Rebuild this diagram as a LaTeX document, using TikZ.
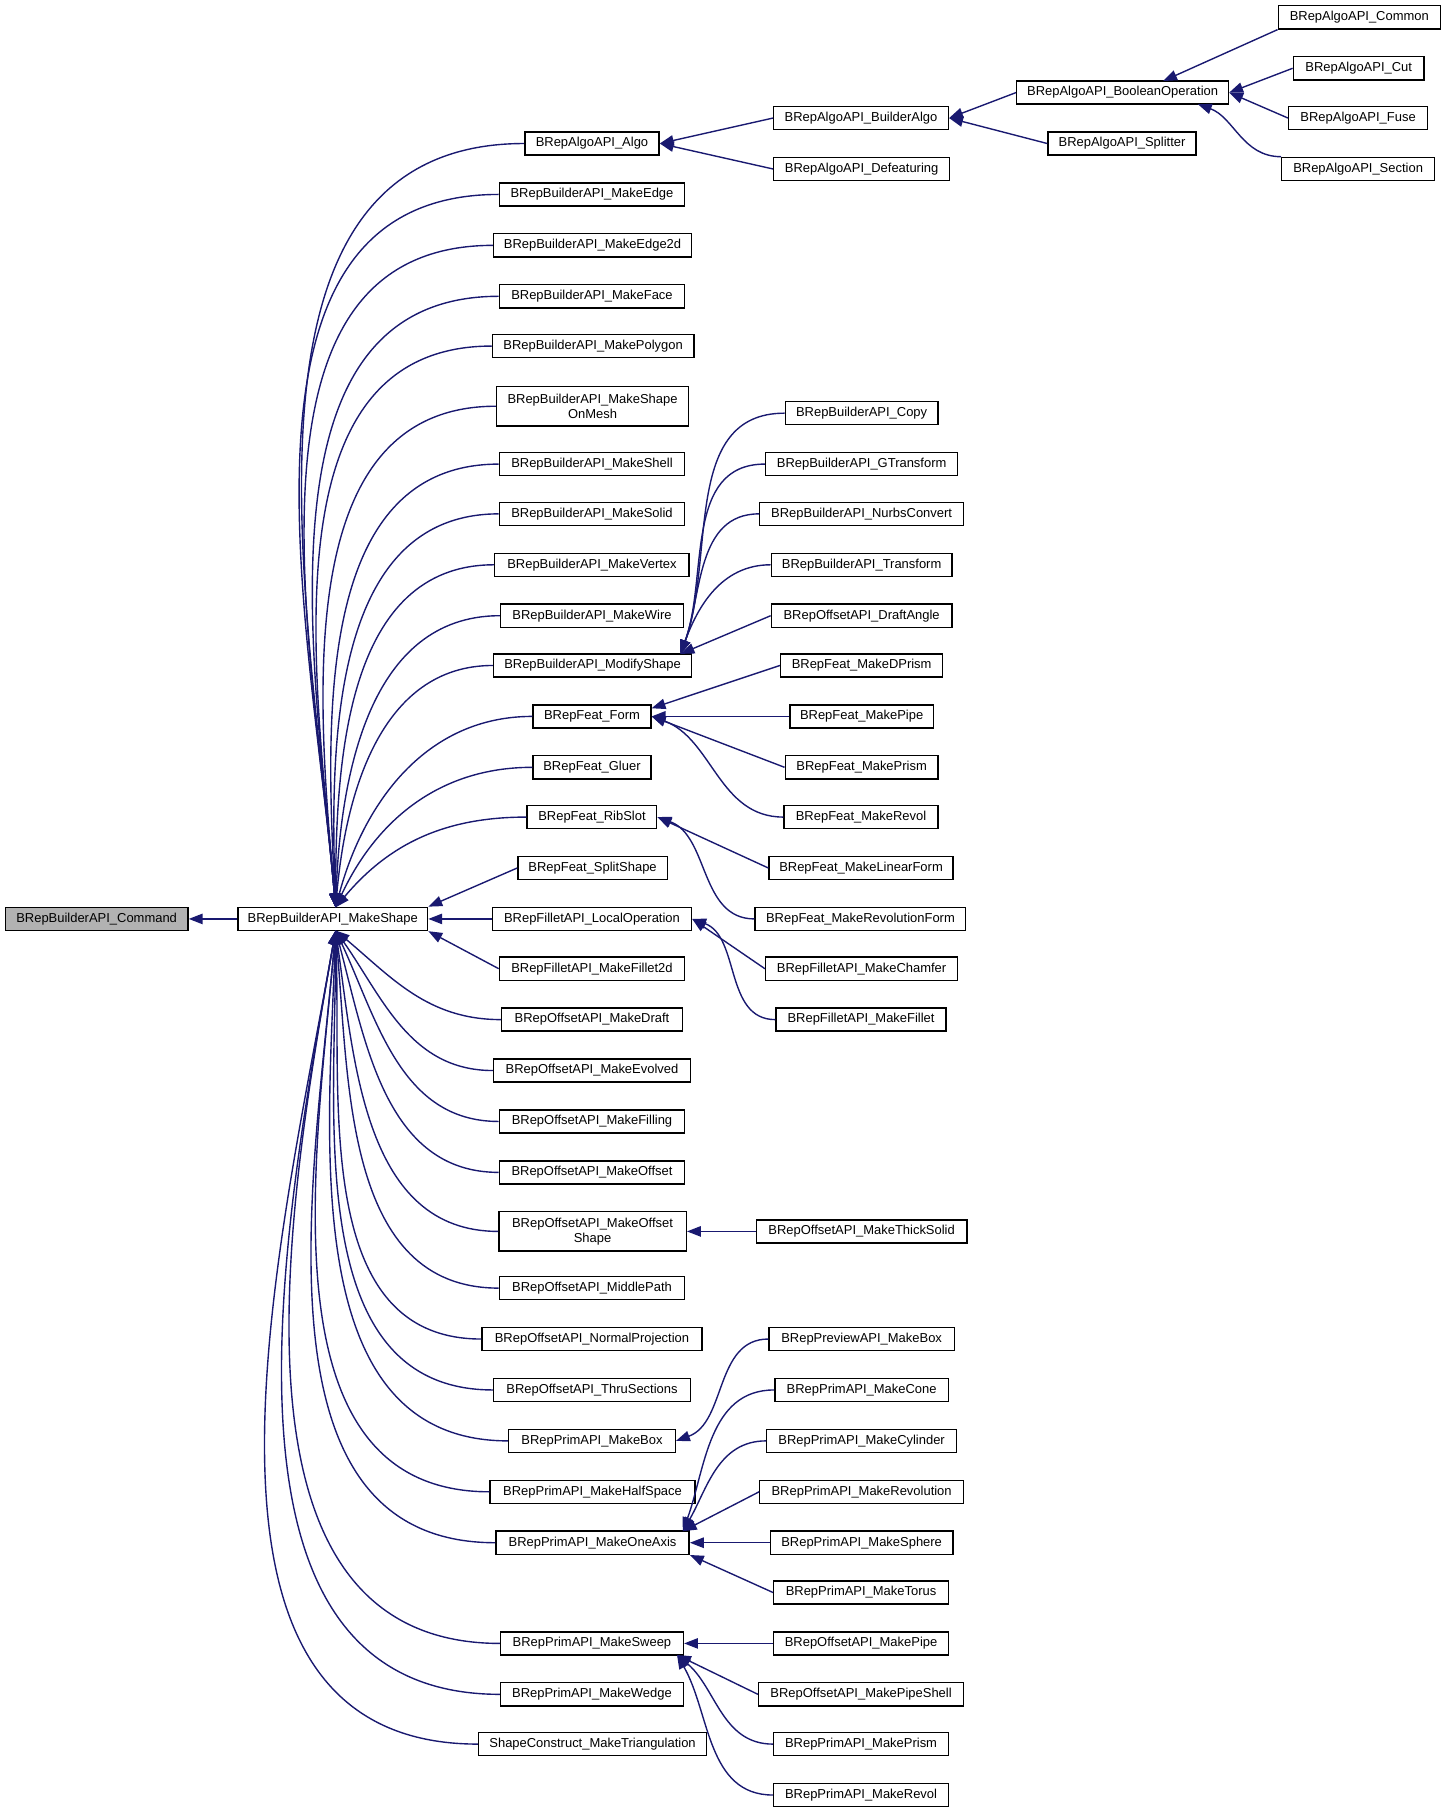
\documentclass[tikz,border=0pt]{standalone}
\usepackage{fontspec}
\setmainfont{Liberation Sans}
\usetikzlibrary{arrows.meta}
\definecolor{ec}{HTML}{191970}
\tikzset{box/.style={draw,semithick,fill=white,inner sep=0pt,minimum height=10pt,align=center,font=\fontsize{5.6}{6.3}\selectfont},
e/.style={ec,semithick,-{Triangle[length=6pt,width=4.5pt]}}}
\newcommand\bx[5]{\node[box,minimum width=#4*0.5pt-0.5pt] (#1) at (#2,#3) {#5};}
\begin{document}
\begin{tikzpicture}[x=0.5pt,y=-0.5pt]
\useasboundingbox (0,0) rectangle (1250,1570);
\node[box,fill=gray!60,minimum width=79pt] (cmd) at (83.5,794) {BRepBuilderAPI\_Command};
\bx{ms}{287.5}{794}{165}{BRepBuilderAPI\_MakeShape}
\coordinate (msT) at (290,784);
\coordinate (msB) at (290,804);
% column 2
\bx{algo}{511.5}{124}{117}{BRepAlgoAPI\_Algo}
\bx{edge}{511.5}{168}{161}{BRepBuilderAPI\_MakeEdge}
\bx{edge2}{512}{212}{172}{BRepBuilderAPI\_MakeEdge2d}
\bx{face}{511.5}{256}{161}{BRepBuilderAPI\_MakeFace}
\bx{poly}{512.5}{299}{175}{BRepBuilderAPI\_MakePolygon}
\node[box,minimum width=83pt,minimum height=17pt] (mesh) at (512,351) {BRepBuilderAPI\_MakeShape\\OnMesh};
\bx{shell}{511.5}{401}{161}{BRepBuilderAPI\_MakeShell}
\bx{solid}{511.5}{444}{161}{BRepBuilderAPI\_MakeSolid}
\bx{vert}{511.5}{488}{169}{BRepBuilderAPI\_MakeVertex}
\bx{wire}{511.5}{532}{159}{BRepBuilderAPI\_MakeWire}
\bx{mod}{512}{575}{172}{BRepBuilderAPI\_ModifyShape}
\bx{form}{511.5}{619}{103}{BRepFeat\_Form}
\bx{gluer}{511.5}{663}{103}{BRepFeat\_Gluer}
\bx{rib}{511.5}{706}{113}{BRepFeat\_RibSlot}
\bx{split}{512}{750}{130}{BRepFeat\_SplitShape}
\bx{lop}{511.5}{794}{173}{BRepFilletAPI\_LocalOperation}
\bx{f2d}{511.5}{837}{161}{BRepFilletAPI\_MakeFillet2d}
\bx{draft}{511.5}{881}{157}{BRepOffsetAPI\_MakeDraft}
\bx{evol}{511.5}{925}{171}{BRepOffsetAPI\_MakeEvolved}
\bx{fill}{511.5}{969}{161}{BRepOffsetAPI\_MakeFilling}
\bx{off}{511.5}{1013}{161}{BRepOffsetAPI\_MakeOffset}
\node[box,minimum width=81pt,minimum height=17pt] (offs) at (512,1064) {BRepOffsetAPI\_MakeOffset\\Shape};
\bx{mid}{511.5}{1113}{161}{BRepOffsetAPI\_MiddlePath}
\bx{norm}{511.5}{1157}{191}{BRepOffsetAPI\_NormalProjection}
\bx{thru}{511.5}{1201}{171}{BRepOffsetAPI\_ThruSections}
\bx{box}{511.5}{1245}{145}{BRepPrimAPI\_MakeBox}
\bx{half}{512}{1289}{178}{BRepPrimAPI\_MakeHalfSpace}
\bx{one}{512}{1333}{168}{BRepPrimAPI\_MakeOneAxis}
\bx{sweep}{511.5}{1420}{159}{BRepPrimAPI\_MakeSweep}
\bx{wedge}{511.5}{1464}{159}{BRepPrimAPI\_MakeWedge}
\bx{tri}{512}{1507}{198}{ShapeConstruct\_MakeTriangulation}
% column 3
\bx{balgo}{744}{102}{152}{BRepAlgoAPI\_BuilderAlgo}
\bx{defeat}{744.5}{146}{153}{BRepAlgoAPI\_Defeaturing}
\bx{copy}{744.5}{357}{133}{BRepBuilderAPI\_Copy}
\bx{gtr}{744.5}{401}{167}{BRepBuilderAPI\_GTransform}
\bx{nurbs}{744.5}{444}{177}{BRepBuilderAPI\_NurbsConvert}
\bx{trans}{744.5}{488}{157}{BRepBuilderAPI\_Transform}
\bx{dangle}{744.5}{532}{157}{BRepOffsetAPI\_DraftAngle}
\bx{dprism}{744.5}{575}{141}{BRepFeat\_MakeDPrism}
\bx{fpipe}{744.5}{619}{125}{BRepFeat\_MakePipe}
\bx{fprism}{744.5}{663}{133}{BRepFeat\_MakePrism}
\bx{frevol}{744}{706}{134}{BRepFeat\_MakeRevol}
\bx{lin}{744}{750}{160}{BRepFeat\_MakeLinearForm}
\bx{revf}{743.5}{794}{183}{BRepFeat\_MakeRevolutionForm}
\bx{cham}{744.5}{837}{167}{BRepFilletAPI\_MakeChamfer}
\bx{fil}{744}{881}{148}{BRepFilletAPI\_MakeFillet}
\bx{thick}{744.5}{1064}{183}{BRepOffsetAPI\_MakeThickSolid}
\bx{pbox}{744.5}{1157}{161}{BRepPreviewAPI\_MakeBox}
\bx{cone}{744.5}{1201}{151}{BRepPrimAPI\_MakeCone}
\bx{cyl}{744.5}{1245}{165}{BRepPrimAPI\_MakeCylinder}
\bx{revn}{744.5}{1289}{177}{BRepPrimAPI\_MakeRevolution}
\bx{sph}{744.5}{1333}{159}{BRepPrimAPI\_MakeSphere}
\bx{tor}{744}{1376}{152}{BRepPrimAPI\_MakeTorus}
\bx{opipe}{744}{1420}{152}{BRepOffsetAPI\_MakePipe}
\bx{pshell}{744}{1464}{178}{BRepOffsetAPI\_MakePipeShell}
\bx{pprism}{744}{1507}{152}{BRepPrimAPI\_MakePrism}
\bx{prevol}{744}{1551}{152}{BRepPrimAPI\_MakeRevol}
% col 4,5
\bx{bool}{970}{80}{184}{BRepAlgoAPI\_BooleanOperation}
\bx{spl}{969.5}{124}{129}{BRepAlgoAPI\_Splitter}
\bx{common}{1174.5}{15}{141}{BRepAlgoAPI\_Common}
\bx{cut}{1174}{59}{114}{BRepAlgoAPI\_Cut}
\bx{fuse}{1173.5}{102}{121}{BRepAlgoAPI\_Fuse}
\bx{sect}{1173.5}{146}{133}{BRepAlgoAPI\_Section}
% edges
\draw[e] (ms) -- (cmd);
\foreach \n/\a in {algo/95,edge/95,edge2/95,face/95,poly/95,mesh/95,shell/93,solid/92,vert/90,wire/88,mod/85,form/75,gluer/65,rib/50}
  \draw[e] (\n.west) to[out=180,in=\a] (msT);
\draw[e] (split.west) -- (ms.north east);
\draw[e] (lop) -- (ms);
\draw[e] (f2d.west) -- (ms.south east);
\foreach \n/\a in {draft/-40,evol/-55,fill/-65,off/-75,offs/-82,mid/-85,norm/-88,thru/-90,box/-92,half/-95,one/-95,sweep/-100,wedge/-100,tri/-100}
  \draw[e] (\n.west) to[out=180,in=\a] (msB);
\draw[e] (balgo.west) -- (algo.east);
\draw[e] (defeat.west) -- (algo.east);
\draw[e] (bool.west) -- (balgo.east);
\draw[e] (spl.west) -- (balgo.east);
\coordinate (boolT) at (1005,70);
\coordinate (boolB) at (1035,90);
\draw[e] (common.south west) -- (boolT);
\draw[e] (cut.west) -- (bool.east);
\draw[e] (fuse.west) -- (bool.east);
\draw[e] (sect.north west) to[out=180,in=-20] (boolB);
\coordinate (modT) at (588,565);
\foreach \n in {copy,gtr,nurbs,trans}
  \draw[e] (\n.west) to[out=180,in=70] (modT);
\draw[e] (dangle.west) -- (modT);
\coordinate (formT) at (563,612);
\draw[e] (dprism.west) -- (formT);
\draw[e] (fpipe.west) -- (form.east);
\draw[e] (fprism.west) -- (form.east);
\draw[e] (frevol.west) to[out=180,in=-20] (form.east);
\draw[e] (lin.west) -- (rib.east);
\draw[e] (revf.west) to[out=180,in=-20] (rib.east);
\draw[e] (cham.west) -- (lop.east);
\draw[e] (fil.west) to[out=180,in=-20] (lop.east);
\draw[e] (thick) -- (offs);
\draw[e] (pbox.west) to[out=180,in=20] (box.east);
\coordinate (oneT) at (590,1323);
\draw[e] (cone.west) to[out=180,in=70] (oneT);
\draw[e] (cyl.west) to[out=180,in=60] (oneT);
\draw[e] (revn.west) -- (oneT);
\draw[e] (sph) -- (one);
\draw[e] (tor.west) -- (one.south east);
\draw[e] (opipe) -- (sweep);
\coordinate (swB) at (585,1430);
\draw[e] (pshell.west) -- (swB);
\draw[e] (pprism.west) to[out=180,in=-40] (swB);
\draw[e] (prevol.west) to[out=180,in=-60] (swB);
\end{tikzpicture}
\end{document}
